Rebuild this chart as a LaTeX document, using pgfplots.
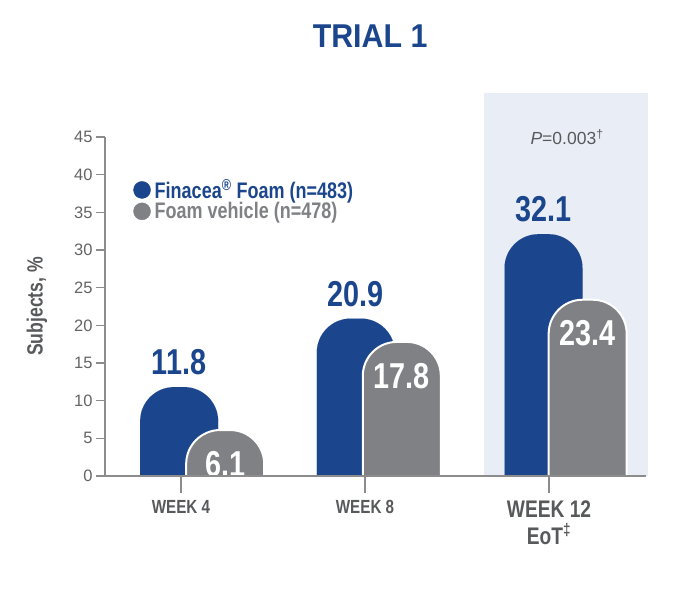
\documentclass[border=0pt]{standalone}
\usepackage{fontspec}
\setmainfont{Liberation Sans}
\newfontfamily\condfont{Liberation Sans}[FakeStretch=0.8]
\newfontfamily\titlefont{Liberation Sans}[FakeStretch=0.92]
\usepackage{pgfplots}
\pgfplotsset{compat=1.18}
\usetikzlibrary{backgrounds}

\definecolor{finblue}{RGB}{27,70,141}
\definecolor{vehgrey}{RGB}{128,129,133}
\definecolor{axgrey}{RGB}{140,140,140}
\definecolor{txtgrey}{RGB}{88,89,91}
\definecolor{tickgrey}{RGB}{100,100,102}
\definecolor{bgshade}{RGB}{233,238,246}

% bar with a rounded top; the data point is the top, the rest is clipped at y=0
\pgfdeclareplotmark{roundbar}{%
  \pgfpathmoveto{\pgfqpoint{-39pt}{-500pt}}%
  \pgfpathlineto{\pgfqpoint{-39pt}{-34pt}}%
  \pgfpatharc{180}{90}{34pt}%
  \pgfpathlineto{\pgfqpoint{5pt}{0pt}}%
  \pgfpatharc{90}{0}{34pt}%
  \pgfpathlineto{\pgfqpoint{39pt}{-500pt}}%
  \pgfpathclose
  \pgfusepathqfillstroke
}

\begin{document}
\begin{tikzpicture}
\path[use as bounding box] (0pt,0pt) rectangle (700pt,600pt);
\begin{axis}[
  at={(105pt,124pt)}, anchor=south west,
  scale only axis, width=541pt, height=339pt,
  xmin=0.587, xmax=3.527, ymin=0, ymax=45,
  axis x line*=bottom, axis y line*=left,
  axis line style={draw=axgrey, line width=1.5pt},
  axis on top,
  clip marker paths=true,
  /pgf/number format/assume math mode=true,
  xtick={1,2,3},
  xticklabels={
    {\fontsize{19}{22}\selectfont WEEK 4},
    {\fontsize{19}{22}\selectfont WEEK 8},
    {\fontsize{24}{28}\selectfont WEEK 12\\[5pt]\fontsize{24}{28}\selectfont EoT\textsuperscript{‡}}},
  xticklabel style={font=\condfont\bfseries, text=txtgrey, align=center, anchor=north, yshift=-12pt},
  ytick={0,5,...,45},
  yticklabel style={font=\fontsize{16.5}{16.5}\selectfont, text=tickgrey},
  tick align=outside,
  major tick length=9pt,
  tick style={draw=axgrey, line width=1.5pt},
  xtick style={/pgfplots/major tick length=17pt},
  title={TRIAL 1},
  title style={at={(axis description cs:0.49,1.28)}, anchor=center,
    font=\titlefont\bfseries\fontsize{33}{33}\selectfont, text=finblue},
  ylabel={Subjects, \%},
  ylabel style={at={(axis description cs:-0.126,0.5)}, anchor=center,
    font=\condfont\bfseries\fontsize{22}{22}\selectfont, text=txtgrey},
  legend cell align=left,
  legend style={draw=none, fill=none, at={(axis description cs:0.052,0.874)},
    anchor=north west, inner sep=0pt, row sep=2.5pt, column sep=4pt,
    nodes={inner sep=0pt},
    font=\condfont\bfseries\fontsize{22.5}{22.5}\selectfont},
]
\addplot[only marks, mark=roundbar,
  mark options={fill=finblue, draw=finblue, line width=0.01pt},
  point meta=explicit symbolic, nodes near coords,
  nodes near coords style={font=\condfont\bfseries\fontsize{36}{36}\selectfont,
    text=finblue, anchor=south, inner sep=0pt, yshift=12pt},
  legend image code/.code={\fill[finblue] (4pt,0pt) circle (8.5pt);}]
coordinates {(0.99,11.8)[11.8] (1.95,20.9)[20.9] (2.97,32.1)[32.1]};
\addlegendentry{\textcolor{finblue}{Finacea\textsuperscript{®} Foam (n=483)}}
\addplot[only marks, mark=roundbar,
  mark options={fill=vehgrey, draw=white, line width=2pt},
  point meta=explicit symbolic, nodes near coords,
  nodes near coords style={font=\condfont\bfseries\fontsize{36}{36}\selectfont,
    text=white, anchor=north, inner sep=0pt, yshift=-20pt},
  legend image code/.code={\fill[vehgrey] (4pt,0pt) circle (8.5pt);}]
coordinates {(1.24,6.1)[6.1] (2.20,17.8)[17.8] (3.21,23.4)[23.4]};
\addlegendentry{\textcolor{vehgrey}{Foam vehicle (n=478)}}
\coordinate (shA) at (axis cs:2.647,0);
\coordinate (shB) at (axis cs:3.538,50.84);
\coordinate (pv) at (axis cs:3.098,45);
\end{axis}
\begin{scope}[on background layer]
\fill[bgshade] (shA) rectangle (shB);
\end{scope}
\node[font=\fontsize{17.5}{17.5}\selectfont, text=txtgrey] at (pv) {\textit{P}=0.003\textsuperscript{†}};
\end{tikzpicture}
\end{document}
